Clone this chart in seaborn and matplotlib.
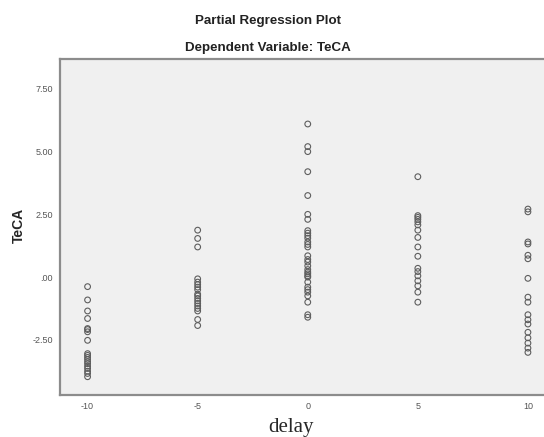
import pandas as pd
import matplotlib
matplotlib.use("Agg")
import matplotlib.pyplot as plt
import seaborn as sns

# TeCA residuals, one list per delay value
delays = [-10, -5, 0, 5, 10]
teca_m10 = [-0.38, -0.91, -1.35, -1.65, -2.05, -2.09, -2.18, -2.52, -3.05,
            -3.12, -3.20, -3.28, -3.37, -3.45, -3.55, -3.64, -3.75, -3.84, -3.97]
teca_m5 = [1.87, 1.54, 1.20, -0.07, -0.20, -0.30, -0.40, -0.50, -0.68, -0.75,
           -0.85, -0.95, -1.05, -1.15, -1.25, -1.35, -1.69, -1.93]
teca_0 = [6.10, 5.20, 5.00, 4.20, 3.25, 2.50, 2.30, 1.85, 1.75, 1.65, 1.55,
          1.40, 1.30, 1.20, 0.85, 0.70, 0.60, 0.45, 0.30, 0.20, 0.13, 0.05,
          0.00, -0.20, -0.40, -0.50, -0.60, -0.75, -1.00, -1.50, -1.60]
teca_5 = [4.00, 2.45, 2.38, 2.30, 2.20, 2.08, 1.87, 1.58, 1.20, 0.83, 0.35,
          0.22, 0.05, -0.15, -0.35, -0.60, -1.00]
teca_10 = [2.71, 2.60, 1.40, 1.32, 0.87, 0.73, -0.05, -0.80, -1.00, -1.50,
           -1.70, -1.87, -2.20, -2.42, -2.63, -2.83, -3.00]

y_ticks = [-2.5, 0.0, 2.5, 5.0, 7.5]
y_tick_labels = ["-2.50", ".00", "2.50", "5.00", "7.50"]
x_ticks = [-10, -5, 0, 5, 10]
x_tick_labels = ["-10", "-5", "0", "5", "10"]

# Long table for seaborn
groups = [teca_m10, teca_m5, teca_0, teca_5, teca_10]
rows = []
for d, vals in zip(delays, groups):
    for v in vals:
        rows.append({"delay": d, "TeCA": v})
df = pd.DataFrame(rows)

sns.set_style("white")
plt.rcParams['font.family'] = ['Liberation Sans', 'DejaVu Sans']

fig = plt.figure(figsize=(5.44, 4.37), dpi=100)
ax = fig.add_axes([0.110, 0.096, 0.89, 0.769])
ax.set_facecolor("#f0f0f0")

sns.scatterplot(data=df, x="delay", y="TeCA", ax=ax, marker="o", s=17,
                facecolor="none", edgecolor="#5e5e5e", linewidth=0.8,
                legend=False)

ax.set_xlim(-11.26, 10.73)
ax.set_ylim(-4.70, 8.69)
ax.set_xticks(x_ticks)
ax.set_xticklabels(x_tick_labels)
ax.set_yticks(y_ticks)
ax.set_yticklabels(y_tick_labels)
ax.tick_params(axis="both", direction="out", length=3, width=1,
               color="#555555", labelsize=6.5, labelcolor="#555555", pad=2)

for side in ["left", "bottom", "top"]:
    ax.spines[side].set_color("#8c8c8c")
    ax.spines[side].set_linewidth(1.6)
ax.spines["right"].set_visible(False)

ax.set_xlabel("delay", family=["Liberation Serif", "DejaVu Serif"],
              fontsize=15, va="center")
ax.xaxis.set_label_coords(0.477, -0.098)
ax.set_ylabel("TeCA", fontsize=10, fontweight="bold", va="center")
ax.yaxis.set_label_coords(-0.085, 0.504)

fig.text(0.493, 0.952, "Partial Regression Plot", ha="center", va="center",
         fontsize=9.6, fontweight="bold", color="#222222")
fig.text(0.493, 0.890, "Dependent Variable: TeCA", ha="center", va="center",
         fontsize=9.6, fontweight="bold", color="#222222")

fig.savefig("out.png", dpi=100)
